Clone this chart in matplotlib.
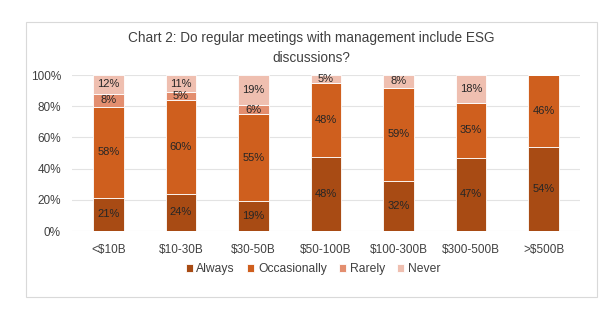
import matplotlib
matplotlib.use("Agg")
import matplotlib.pyplot as plt
from matplotlib.patches import Rectangle
import numpy as np

plt.rcParams['font.family'] = ['Liberation Sans', 'DejaVu Sans']

categories = ["<$10B", "$10-30B", "$30-50B", "$50-100B", "$100-300B", "$300-500B", ">$500B"]
always = [21, 24, 19, 48, 32, 47, 54]
occasionally = [58, 60, 55, 48, 59, 35, 46]
rarely = [8, 5, 6, 0, 0, 0, 0]
never = [12, 11, 19, 5, 8, 18, 0]
series_names = ["Always", "Occasionally", "Rarely", "Never"]
colors = ["#A84B14", "#CF5F1E", "#E38E6F", "#EFBFB0"]
yticks = [0, 20, 40, 60, 80, 100]

fig = plt.figure(figsize=(6.01, 3.24), dpi=100)
fig.patches.append(Rectangle((26/601, 1-297/324), (597-26)/601, (297-22)/324,
                             transform=fig.transFigure, fill=False, edgecolor="#D9D9D9", lw=0.8))
ax = fig.add_axes([72/601, 1-231/324, (580-72)/601, (231-75)/324])

data = [np.array(d, dtype=float) for d in (always, occasionally, rarely, never)]
totals = sum(data)
x = np.arange(len(categories))
bottom = np.zeros(len(categories))
for name, vals, c in zip(series_names, data, colors):
    share = vals / totals * 100
    ax.bar(x, share, bottom=bottom, width=0.42, color=c, edgecolor="white", linewidth=0.6, label=name, zorder=3)
    for xi, v, s, b in zip(x, vals, share, bottom):
        if v > 0:
            ax.text(xi, b + s/2, f"{int(v)}%", ha="center", va="center", fontsize=8, color="#262626", zorder=4)
    bottom += share

ax.set_ylim(0, 100)
ax.set_xlim(-0.5, len(categories) - 0.5)
ax.set_yticks(yticks)
ax.set_yticklabels([f"{t}%" for t in yticks], fontsize=8.5, color="#404040")
ax.set_xticks(x)
ax.set_xticklabels(categories, fontsize=8.5, color="#404040")
ax.tick_params(axis="y", length=0, pad=8)
ax.tick_params(axis="x", length=0, pad=9)
ax.grid(axis="y", color="#E3E3E3", lw=0.8, zorder=0)
for s in ax.spines.values():
    s.set_visible(False)

fig.text(311/601, 1-48/324, "Chart 2: Do regular meetings with management include ESG\ndiscussions?",
         ha="center", va="center", fontsize=9.8, color="#404040", linespacing=1.5)

handles, labels = ax.get_legend_handles_labels()
fig.legend(handles, labels, loc="center", bbox_to_anchor=(313/601, 1-269/324), ncol=4, frameon=False,
           fontsize=8.7, handlelength=0.6, handleheight=0.6, handletextpad=0.3, columnspacing=1.0,
           labelcolor="#404040")

fig.savefig("out.png", dpi=100)
